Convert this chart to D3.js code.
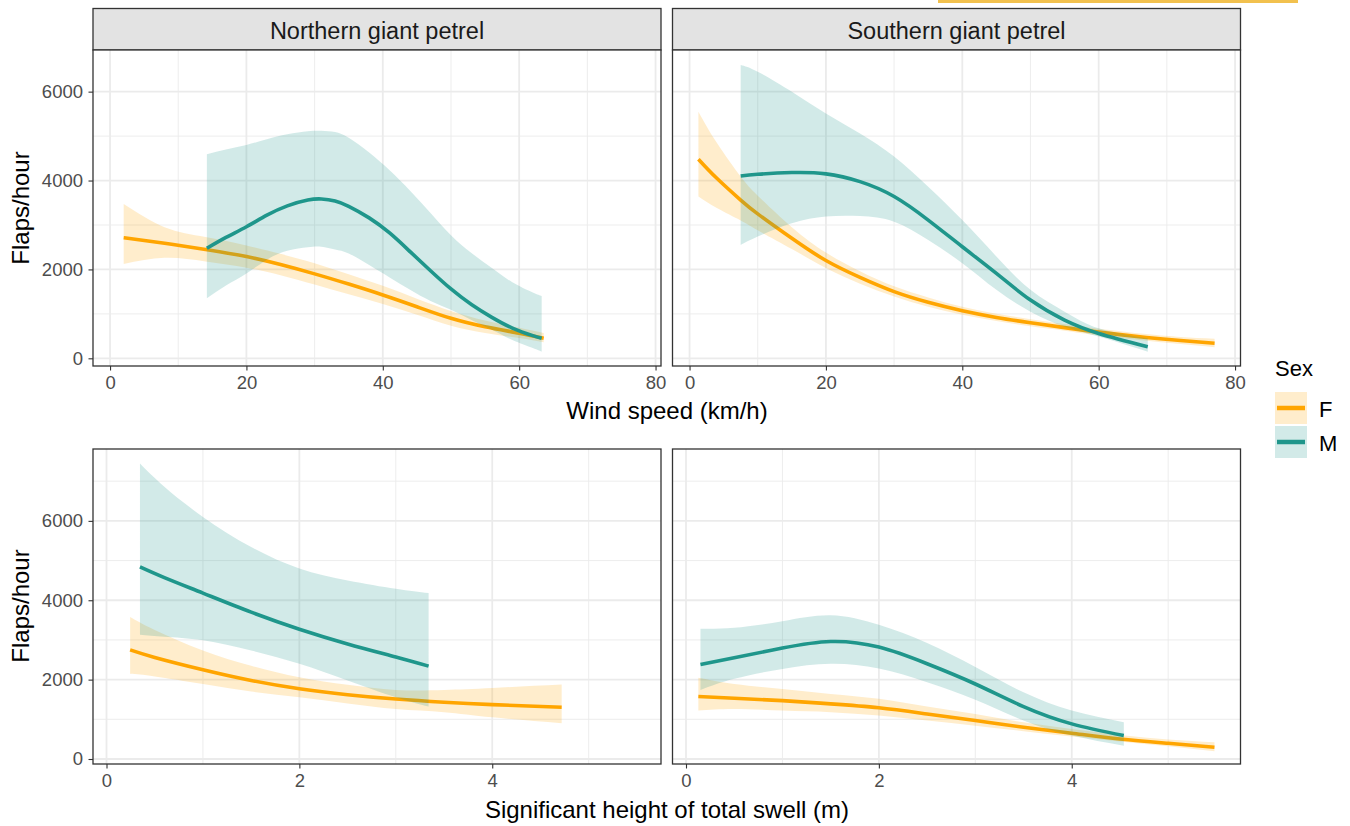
<!DOCTYPE html>
<html>
<head>
<meta charset="utf-8">
<script src="https://cdn.jsdelivr.net/npm/d3@7"></script>
<style>
  body { margin: 0; background: #fff; }
  svg { font-family: "Liberation Sans", Arial, sans-serif; }
</style>
</head>
<body>
<div id="chart"></div>
<script>
// rows: [x, fit, lower, upper]
const windNorthF = [[2, 2715, 2120, 3470], [8, 2590, 2260, 2950], [14, 2450, 2180, 2730], [20, 2290, 2040, 2540],
  [25, 2110, 1870, 2350], [30, 1900, 1660, 2140], [35, 1670, 1440, 1890], [40, 1425, 1220, 1630],
  [45, 1160, 980, 1340], [50, 900, 735, 1065], [55, 710, 570, 850], [60, 565, 455, 685], [63.6, 450, 360, 570]];
const windNorthM = [[14.2, 2475, 1350, 4590], [17, 2720, 1640, 4700], [20, 2960, 1910, 4800], [23, 3220, 2220, 4930],
  [26, 3430, 2420, 5040], [29, 3560, 2500, 5110], [31, 3585, 2510, 5120], [33, 3540, 2450, 5090],
  [35, 3420, 2360, 4960], [38, 3160, 2100, 4630], [41, 2820, 1820, 4230], [44, 2400, 1540, 3770],
  [47, 1970, 1290, 3270], [50, 1560, 1090, 2770], [53, 1210, 860, 2370], [56, 920, 640, 2030],
  [59, 680, 410, 1710], [62, 510, 230, 1480], [63.3, 450, 150, 1400]];
const windSouthF = [[1.3, 4480, 3640, 5550], [4, 4050, 3380, 4850], [7.5, 3560, 3100, 4090], [10, 3250, 2880, 3660],
  [15, 2700, 2460, 2950], [20, 2200, 2030, 2380], [25, 1820, 1680, 1960], [30, 1500, 1390, 1620],
  [35, 1260, 1160, 1370], [40, 1070, 980, 1160], [45, 920, 840, 1000], [50, 800, 720, 880],
  [55, 690, 620, 770], [60, 590, 515, 665], [67, 470, 395, 545], [72, 400, 320, 480], [77, 340, 250, 440]];
const windSouthM = [[7.5, 4100, 2550, 6600], [10, 4140, 2740, 6450], [15, 4180, 3040, 6000], [20, 4150, 3190, 5510],
  [25, 3975, 3200, 5060], [30, 3640, 3075, 4540], [35, 3110, 2660, 3860], [40, 2510, 2140, 3110],
  [45, 1910, 1540, 2290], [50, 1310, 1050, 1540], [55, 860, 710, 1050], [60, 560, 490, 675], [67.2, 260, 150, 450]];
const swellNorthF = [[0.245, 2750, 2145, 3575], [0.5, 2560, 2080, 3250], [1, 2250, 1890, 2735], [1.5, 1980, 1700, 2350],
  [2, 1770, 1555, 2060], [2.5, 1620, 1400, 1870], [3, 1510, 1260, 1740], [3.5, 1430, 1180, 1740],
  [4, 1370, 1050, 1790], [4.72, 1305, 900, 1875]];
const swellNorthM = [[0.347, 4840, 3130, 7445], [0.6, 4570, 3080, 6860], [1, 4180, 2990, 6100], [1.5, 3700, 2735, 5340],
  [2, 3270, 2400, 4800], [2.5, 2900, 1980, 4500], [3, 2570, 1555, 4290], [3.34, 2340, 1320, 4180]];
const swellSouthF = [[0.128, 1575, 1220, 2045], [0.5, 1530, 1260, 1890], [1, 1470, 1220, 1765], [1.5, 1390, 1180, 1640],
  [2, 1290, 1095, 1515], [2.5, 1135, 970, 1320], [3, 970, 840, 1135], [3.5, 800, 700, 925],
  [4, 650, 565, 757], [4.5, 505, 440, 605], [5, 395, 320, 490], [5.48, 295, 195, 420]];
const swellSouthM = [[0.15, 2380, 1740, 3280], [0.5, 2550, 2020, 3305], [1, 2795, 2270, 3470], [1.5, 2960, 2400, 3620],
  [2, 2820, 2280, 3380], [2.5, 2400, 1935, 2920], [3, 1890, 1490, 2315],
  [3.5, 1320, 970, 1680], [4, 885, 590, 1220], [4.54, 590, 335, 925]];

const species = ['Northern giant petrel', 'Southern giant petrel'];
const sexes = ['F', 'M'];
const windTicks = [0, 20, 40, 60, 80];
const windMinor = [10, 30, 50, 70];
const swellTicks = [0, 2, 4];
const swellMinor = [1, 3, 5];
const flapTicks = [0, 2000, 4000, 6000];
const flapMinorTop = [1000, 3000, 5000];
const flapMinorBottom = [1000, 3000, 5000, 7000];

const colors = { F: '#FFA500', M: '#1F968B' };

let width = 1350, height = 826;
let svg = d3.select('#chart').append('svg')
  .attr('width', width)
  .attr('height', height);

// stray highlight bar at the top edge of the original figure
svg.append('rect').attr('x', 938).attr('y', 0).attr('width', 360).attr('height', 3).attr('fill', '#F2C14E');

let panelW = 568;
let cols = [93, 672.5];

function drawPanel(x0, y0, h, xDomain, yDomain, xTicks, xMinor, yMinor, fSeries, mSeries, showY) {
  let xScale = d3.scaleLinear().domain(xDomain).range([x0, x0 + panelW]);
  let yScale = d3.scaleLinear().domain(yDomain).range([y0 + h, y0]);
  let g = svg.append('g');

  g.append('rect').attr('x', x0).attr('y', y0).attr('width', panelW).attr('height', h).attr('fill', '#fff');

  // grid
  g.selectAll('.vmin').data(xMinor).enter().append('line')
    .attr('x1', d => xScale(d)).attr('x2', d => xScale(d)).attr('y1', y0).attr('y2', y0 + h)
    .attr('stroke', '#EBEBEB').attr('stroke-width', 0.9);
  g.selectAll('.hmin').data(yMinor).enter().append('line')
    .attr('y1', d => yScale(d)).attr('y2', d => yScale(d)).attr('x1', x0).attr('x2', x0 + panelW)
    .attr('stroke', '#EBEBEB').attr('stroke-width', 0.9);
  g.selectAll('.vmaj').data(xTicks).enter().append('line')
    .attr('x1', d => xScale(d)).attr('x2', d => xScale(d)).attr('y1', y0).attr('y2', y0 + h)
    .attr('stroke', '#EBEBEB').attr('stroke-width', 1.8);
  g.selectAll('.hmaj').data(flapTicks).enter().append('line')
    .attr('y1', d => yScale(d)).attr('y2', d => yScale(d)).attr('x1', x0).attr('x2', x0 + panelW)
    .attr('stroke', '#EBEBEB').attr('stroke-width', 1.8);

  let area = d3.area().curve(d3.curveNatural)
    .x(d => xScale(d[0])).y0(d => yScale(d[2])).y1(d => yScale(d[3]));
  let line = d3.line().curve(d3.curveNatural)
    .x(d => xScale(d[0])).y(d => yScale(d[1]));

  [['F', fSeries], ['M', mSeries]].forEach(function(s) {
    g.append('path').datum(s[1]).attr('d', area).attr('fill', colors[s[0]]).attr('fill-opacity', 0.2);
    g.append('path').datum(s[1]).attr('d', line).attr('fill', 'none')
      .attr('stroke', colors[s[0]]).attr('stroke-width', 3.6);
  });

  g.append('rect').attr('x', x0).attr('y', y0).attr('width', panelW).attr('height', h)
    .attr('fill', 'none').attr('stroke', '#333333').attr('stroke-width', 1.3);

  // axes
  let axes = [];
  axes.push(g.append('g').attr('transform', `translate(0,${y0 + h})`)
    .call(d3.axisBottom(xScale).tickValues(xTicks).tickSize(4.5).tickPadding(5).tickFormat(d3.format('d'))));
  if (showY) {
    axes.push(g.append('g').attr('transform', `translate(${x0},0)`)
      .call(d3.axisLeft(yScale).tickValues(flapTicks).tickSize(4.5).tickPadding(5.5).tickFormat(d3.format('d'))));
  }
  axes.forEach(function(a) {
    a.attr('font-size', 18.5).attr('font-family', '"Liberation Sans", Arial, sans-serif');
    a.select('.domain').remove();
    a.selectAll('line').attr('stroke', '#333333').attr('stroke-width', 1.1);
    a.selectAll('text').attr('fill', '#4D4D4D');
  });
}

// strips
species.forEach(function(sp, i) {
  svg.append('rect').attr('x', cols[i]).attr('y', 8.5).attr('width', panelW).attr('height', 41.5)
    .attr('fill', '#E3E3E3').attr('stroke', '#333333').attr('stroke-width', 1.3);
  svg.append('text').attr('x', cols[i] + panelW / 2).attr('y', 38.5)
    .attr('text-anchor', 'middle').attr('fill', '#1A1A1A').style('font-size', '23.5px').text(sp);
});

let windDomain = [-2.5, 80.8], swellDomain = [-0.14, 5.75];
drawPanel(cols[0], 50, 316, windDomain, [-173, 6937], windTicks, windMinor, flapMinorTop, windNorthF, windNorthM, true);
drawPanel(cols[1], 50, 316, windDomain, [-173, 6937], windTicks, windMinor, flapMinorTop, windSouthF, windSouthM, false);
drawPanel(cols[0], 449, 315, swellDomain, [-126, 7811], swellTicks, swellMinor, flapMinorBottom, swellNorthF, swellNorthM, true);
drawPanel(cols[1], 449, 315, swellDomain, [-126, 7811], swellTicks, swellMinor, flapMinorBottom, swellSouthF, swellSouthM, false);

// axis titles
svg.append('text').attr('x', 667).attr('y', 419).attr('text-anchor', 'middle')
  .style('font-size', '24px').text('Wind speed (km/h)');
svg.append('text').attr('x', 667).attr('y', 818).attr('text-anchor', 'middle')
  .style('font-size', '24px').text('Significant height of total swell (m)');
[208, 606].forEach(function(cy) {
  svg.append('text').attr('transform', `translate(29,${cy}) rotate(-90)`).attr('text-anchor', 'middle')
    .style('font-size', '24px').text('Flaps/hour');
});

// legend
let legend = svg.append('g');
legend.append('text').attr('x', 1275).attr('y', 376).style('font-size', '22px').text('Sex');
sexes.forEach(function(s, i) {
  let ky = 392 + i * 34;
  legend.append('rect').attr('x', 1275).attr('y', ky).attr('width', 32).attr('height', 32)
    .attr('fill', colors[s]).attr('fill-opacity', 0.2);
  legend.append('line').attr('x1', 1277).attr('x2', 1305).attr('y1', ky + 16).attr('y2', ky + 16)
    .attr('stroke', colors[s]).attr('stroke-width', 4.5);
  legend.append('text').attr('x', 1319).attr('y', ky + 24.5).style('font-size', '22px').text(s);
});
</script>
</body>
</html>
